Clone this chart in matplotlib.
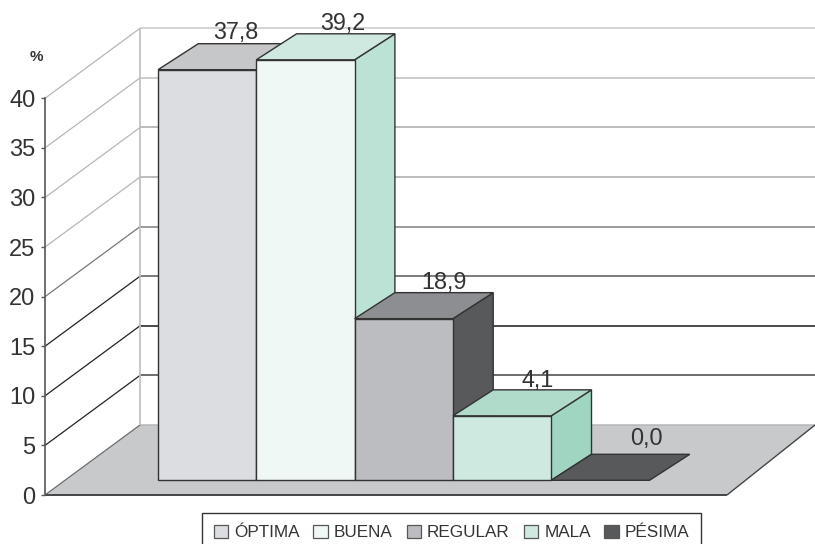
import matplotlib
matplotlib.use("Agg")
import matplotlib.pyplot as plt
from matplotlib.patches import Polygon, Patch

plt.rcParams['font.family'] = ['Liberation Sans', 'DejaVu Sans']

# ---- data ----
categories = ["ÓPTIMA", "BUENA", "REGULAR", "MALA", "PÉSIMA"]
value_labels = ["37,8", "39,2", "18,9", "4,1", "0,0"]
# heights actually drawn, measured against the value axis
drawn_heights = [41.4, 42.4, 16.3, 6.5, 0.0]
y_ticks = [0, 5, 10, 15, 20, 25, 30, 35, 40]

# ---- styles ----
front_colors = ["#dcdde0", "#eff8f5", "#bcbdc1", "#cee9e0", "#58595b"]
top_colors = ["#c6c7c9", "#cfe9e0", "#8d8e91", "#b0dbcb", "#58595b"]
side_colors = ["#b5b6b8", "#bbe2d5", "#58595b", "#9fd5c1", "#58595b"]
back_grid_colors = ["#b5b6b8", "#444546", "#1a1a1a", "#58595b", "#808183",
                    "#a8a9ab", "#a8a9ab", "#bfc0c1", "#c8c9ca"]
diag_grid_colors = ["#6d6e70", "#222222", "#222222", "#222222", "#77787a",
                    "#b5b6b8", "#b5b6b8", "#b5b6b8", "#b5b6b8"]
EDGE = "#333333"
TEXT = "#333333"
FLOOR = "#c8c9cb"
label_nudge_px = [9, 17, 20, 16, 26]
label_rise_px = [11, 10, 10, 9, 16]

fig = plt.figure(figsize=(8.15, 5.44), dpi=100)
W, H = 815.0, 544.0
AX_L, AX_R, AX_B, AX_T = 45.0, 727.0, 495.0, 98.3
ax = fig.add_axes([AX_L / W, 1 - AX_B / H, (AX_R - AX_L) / W, (AX_B - AX_T) / H])
SLOT = 98.3
ax.set_xlim((AX_L - 158) / SLOT, (AX_R - 158) / SLOT)
ax.set_ylim(0, 40)
UNIT = (AX_B - AX_T) / 40.0

# oblique depth offsets, in data units
WALL_DX, WALL_DY = 95 / SLOT, 70 / UNIT
BAR_DX, BAR_DY = 40.3 / SLOT, 26 / UNIT
BASE = (AX_B - 480.3) / UNIT
x0 = ax.get_xlim()[0]
x1 = ax.get_xlim()[1]
XR = x1 + 88 / SLOT


def poly(pts, fc, ec=EDGE, lw=1.0, z=3):
    ax.add_patch(Polygon(pts, closed=True, facecolor=fc, edgecolor=ec, lw=lw,
                         joinstyle="miter", zorder=z, clip_on=False))


def line(xs, ys, c, lw=1.0, z=2):
    ax.plot(xs, ys, color=c, lw=lw, zorder=z, clip_on=False, solid_capstyle="butt")


# floor
poly([(x0, 0), (x1, 0), (XR, WALL_DY), (x0 + WALL_DX, WALL_DY)], FLOOR, ec="none", z=1)
line([x0, x1], [0, 0], "#444546", 1.4, 2)
line([x1, XR], [0, WALL_DY], "#444546", 1.0, 2)

# walls
for v, cb, cd in zip(y_ticks, back_grid_colors, diag_grid_colors):
    line([x0 + WALL_DX, XR], [v + WALL_DY] * 2, cb, 1.1, 1.5)
    line([x0, x0 + WALL_DX], [v, v + WALL_DY], cd, 0.9, 1.5)
line([x0 + WALL_DX] * 2, [WALL_DY, 40 + WALL_DY], "#bdbebf", 1.2, 1.5)

# bars, painted left to right
for i, h in enumerate(drawn_heights):
    l, r = float(i), float(i + 1)
    t = BASE + h
    if h > 0:
        poly([(r, BASE), (r + BAR_DX, BASE + BAR_DY), (r + BAR_DX, t + BAR_DY), (r, t)], side_colors[i])
        poly([(l, BASE), (r, BASE), (r, t), (l, t)], front_colors[i])
    poly([(l, t), (r, t), (r + BAR_DX, t + BAR_DY), (l + BAR_DX, t + BAR_DY)], top_colors[i])
    ax.annotate(value_labels[i], (i + 0.5 + 20 / SLOT, t + BAR_DY), textcoords="offset pixels",
                xytext=(label_nudge_px[i], label_rise_px[i]), ha="center", va="center",
                fontsize=16.8, color=TEXT, zorder=6, annotation_clip=False)

# value axis
for s in ["top", "right", "bottom"]:
    ax.spines[s].set_visible(False)
ax.spines["left"].set_color("#555658")
ax.spines["left"].set_linewidth(1.2)
ax.patch.set_visible(False)
ax.set_xticks([])
ax.set_yticks(y_ticks)
ax.tick_params(axis="y", length=3, width=1.0, color="#555658", labelsize=17, labelcolor=TEXT, pad=4)

fig.text(36 / W, 1 - 57 / H, "%", fontsize=11, fontweight="bold", color=TEXT, ha="center", va="center")

# legend (its lower frame edge runs off the bottom of the picture, as in the reference)
handles = [Patch(facecolor=front_colors[i], edgecolor="#555658", lw=0.9, label=categories[i]) for i in range(5)]
leg = fig.legend(handles=handles, ncol=5, loc="upper left",
                 bbox_to_anchor=(202 / W, 1 - 513 / H), bbox_transform=fig.transFigure,
                 fontsize=12.3, frameon=True, fancybox=False, edgecolor="#333333",
                 facecolor="white", framealpha=1, labelcolor=TEXT, borderaxespad=0,
                 handlelength=0.85, handleheight=0.8, handletextpad=0.35, columnspacing=0.81,
                 borderpad=0.68)
leg.get_frame().set_linewidth(1.0)

fig.savefig("out.png", dpi=100, facecolor="white")
